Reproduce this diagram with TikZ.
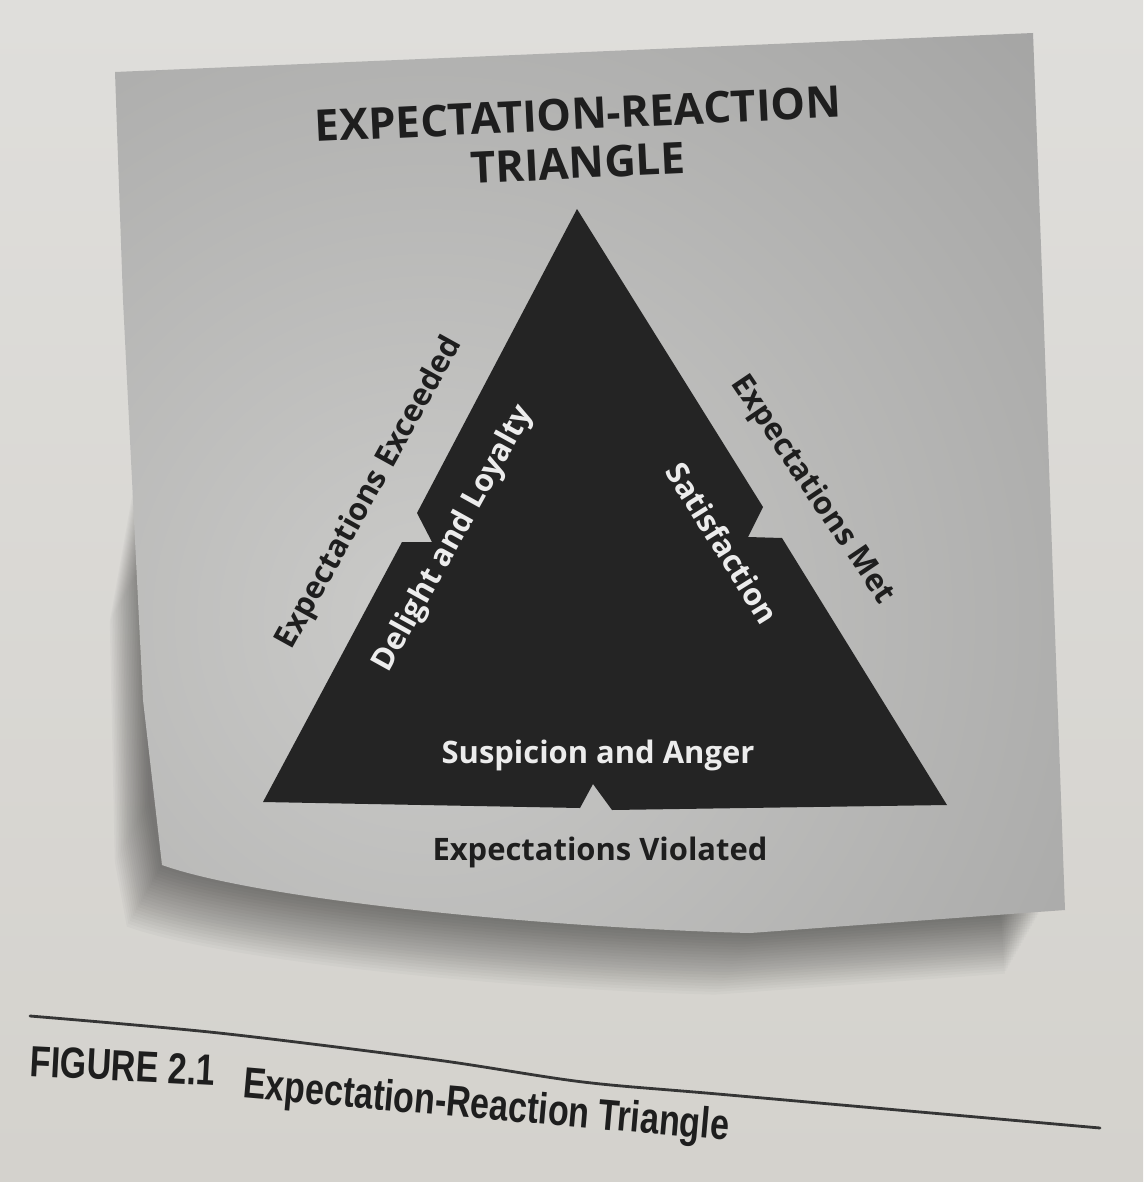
\documentclass[tikz,border=0pt]{standalone}
\usepackage{fontspec}
\setmainfont{Open Sans}
\newfontfamily\capfont[FakeStretch=0.78]{Liberation Sans}
\definecolor{page}{HTML}{D4D2CD}
\definecolor{pagetop}{HTML}{DFDEDB}
\definecolor{cardlight}{HTML}{CBCBC9}
\definecolor{carddark}{HTML}{8C8C8C}
\definecolor{ink}{HTML}{1E1E1E}
\definecolor{tri}{HTML}{242424}
\definecolor{chalk}{HTML}{ECECEC}
\tikzset{
  heading/.style={font=\fontsize{31}{34}\selectfont\bfseries, text=ink, inner sep=0pt},
  outlbl/.style={font=\fontsize{22}{24}\selectfont\bfseries, text=ink, inner sep=0pt},
  inlbl/.style={font=\fontsize{22}{24}\selectfont\bfseries, text=chalk, inner sep=0pt},
  figcap/.style={font=\capfont\fontsize{31}{33}\selectfont\bfseries, text=ink, inner sep=0pt},
  rule/.style={draw=ink!90, line width=2pt, line cap=round}
}

\begin{document}
\begin{tikzpicture}[x=0.025cm, y=-0.025cm]
        \useasboundingbox (0,0) rectangle (1143,1182);
        \shade[top color=pagetop, bottom color=page] (0,0) rectangle (1143,1182);
        \foreach \i in {1,...,22}
          \fill[black, opacity=0.022, shift={(-\i*1.6,\i*2.8)}] (200,250) -- (145,560) -- (150,800) -- (162,865) .. controls (260,900) and (550,928) .. (750,933) -- (1040,912) -- (1000,250) -- cycle;
        \begin{scope}
          \clip (115,72) -- (1033,33) -- (1043,300) -- (1065,910) -- (750,933) .. controls (550,928) and (260,900) .. (162,865) -- (143,700) -- (123,300) -- cycle;
          \shade[inner color=cardlight, outer color=carddark] (430,620) circle (1400);
        \end{scope}
        \fill[tri] (577,209) -- (763,507) -- (748,537) -- (782,538) -- (947,805) -- (612,810) -- (593,784) -- (580,808) -- (263,802) -- (402,542) -- (432,542) -- (417,513) -- cycle;
        \node[heading, rotate=2.7] (ttlA) at (578,114) {EXPECTATION-REACTION};
        \node[heading, rotate=2.7] (ttlB) at (578,163) {TRIANGLE};
        \node[outlbl, rotate=61] (exceeded) at (370,493) {Expectations Exceeded};
        \node[inlbl, rotate=61] (delight) at (454,539) {Delight and Loyalty};
        \node[outlbl, rotate=-56] (met) at (812,490) {Expectations Met};
        \node[inlbl, rotate=-58] (satisf) at (723,543) {Satisfaction};
        \node[inlbl, anchor=base] (anger) at (598,763) {Suspicion and Anger};
        \node[outlbl, anchor=base] (violated) at (600,860) {Expectations Violated};
        \draw[rule] plot[smooth] coordinates {(30,1016) (219,1033) (437,1060) (583,1082) (729,1095) (1100,1128)};
        \node[figcap, anchor=west, rotate=-3] (fignum) at (30,1061) {FIGURE 2.1};
        \node[figcap, rotate=-5] (figtitle) at (486,1108) {Expectation-Reaction Triangle};
      \end{tikzpicture}
\end{document}
